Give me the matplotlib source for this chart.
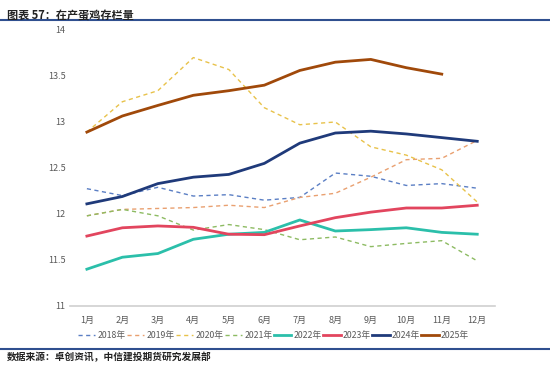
import matplotlib
matplotlib.use("Agg")
import matplotlib.pyplot as plt
from matplotlib.lines import Line2D

plt.rcParams['font.family'] = ['Noto Sans CJK SC', 'DejaVu Sans']

months = ["1月", "2月", "3月", "4月", "5月", "6月", "7月", "8月", "9月", "10月", "11月", "12月"]
y2018 = [12.275, 12.20, 12.29, 12.195, 12.21, 12.15, 12.18, 12.445, 12.41, 12.31, 12.33, 12.28]
y2019 = [11.98, 12.05, 12.06, 12.07, 12.095, 12.07, 12.18, 12.225, 12.40, 12.59, 12.605, 12.80]
y2020 = [12.89, 13.22, 13.34, 13.70, 13.57, 13.155, 12.97, 13.00, 12.73, 12.64, 12.48, 12.13]
y2021 = [11.98, 12.05, 11.98, 11.825, 11.885, 11.83, 11.72, 11.75, 11.645, 11.68, 11.71, 11.49]
y2022 = [11.40, 11.53, 11.57, 11.725, 11.78, 11.80, 11.935, 11.815, 11.83, 11.85, 11.80, 11.78]
y2023 = [11.76, 11.85, 11.87, 11.855, 11.78, 11.775, 11.87, 11.96, 12.02, 12.065, 12.065, 12.095]
y2024 = [12.11, 12.19, 12.33, 12.40, 12.43, 12.55, 12.77, 12.88, 12.90, 12.87, 12.83, 12.79]
y2025 = [12.89, 13.065, 13.18, 13.29, 13.34, 13.40, 13.56, 13.65, 13.68, 13.59, 13.52]
labels = ["2018年", "2019年", "2020年", "2021年", "2022年", "2023年", "2024年", "2025年"]
yticks = [11, 11.5, 12, 12.5, 13, 13.5, 14]

series = [y2018, y2019, y2020, y2021, y2022, y2023, y2024, y2025]
colors = ["#5B7FC4", "#E9A070", "#E8C24A", "#8DBB62", "#2BBFAA", "#E2455E", "#1F3A7A", "#A0490A"]
styles = ["--", "--", "--", "--", "-", "-", "-", "-"]
widths = [1.0, 1.0, 1.0, 1.0, 2.0, 2.0, 2.0, 2.0]

fig = plt.figure(figsize=(5.5, 3.7), dpi=100)
ax = fig.add_axes([0.127, 0.173, 0.773, 0.746])

x = list(range(1, 13))
for vals, c, ls, lw, lab in zip(series, colors, styles, widths, labels):
    ax.plot(x[:len(vals)], vals, color=c, linestyle=ls, linewidth=lw, label=lab,
            dashes=(3, 2.5) if ls == "--" else (None, None))

ax.set_xlim(0.52, 12.5)
ax.set_ylim(11, 14)
ax.set_xticks(x)
ax.set_xticklabels(months)
ax.set_yticks(yticks)
ax.set_yticklabels(["11", "11.5", "12", "12.5", "13", "13.5", "14"])
ax.tick_params(axis='both', length=0, labelsize=6.5, colors="#595959")
ax.tick_params(axis='x', pad=7)
ax.tick_params(axis='y', pad=3)
for s in ["top", "right", "left"]:
    ax.spines[s].set_visible(False)
ax.spines["bottom"].set_color("#D0D0D0")
ax.spines["bottom"].set_linewidth(1.2)

handles = []
for c, ls, lw, lab in zip(colors, styles, widths, labels):
    handles.append(Line2D([0], [0], color=c, linestyle=ls, linewidth=lw,
                          dashes=(3, 2.5) if ls == "--" else (None, None)))
fig.legend(handles, labels, loc="center", bbox_to_anchor=(0.497, 0.093), ncol=8,
           frameon=False, fontsize=6.3, handlelength=2.0, handletextpad=0.25,
           columnspacing=0.15, labelcolor="#595959")

fig.text(0.012, 0.975, "图表 57：在产蛋鸡存栏量", fontsize=8, fontweight="bold",
         va="top", ha="left", color="#222222")
fig.add_artist(Line2D([0, 1], [0.947, 0.947], color="#2F4F8F", linewidth=1.5,
                      transform=fig.transFigure))
fig.add_artist(Line2D([0, 1], [0.058, 0.058], color="#2F4F8F", linewidth=1.5,
                      transform=fig.transFigure))
fig.text(0.012, 0.035, "数据来源：卓创资讯，中信建投期货研究发展部", fontsize=7,
         fontstyle="italic", fontweight="bold", va="center", ha="left", color="#222222")

fig.savefig("out.png", dpi=100)
